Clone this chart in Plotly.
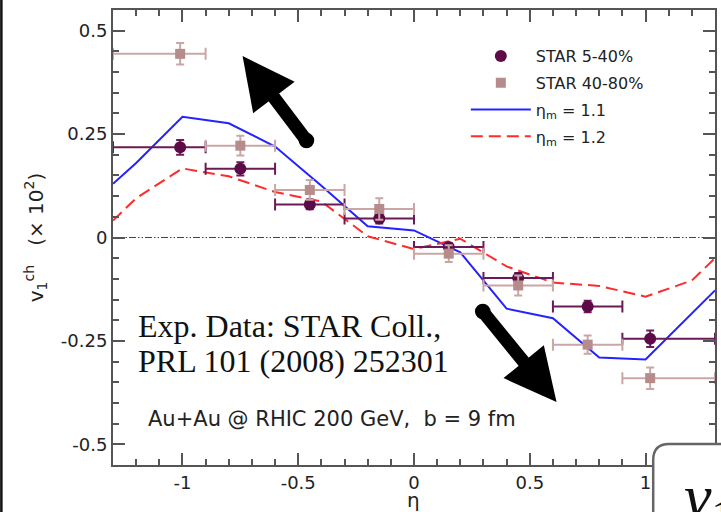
import plotly.graph_objects as go

# STAR charged-hadron v1(eta): bin centres and bin edges
eta_star = [-1.01, -0.75, -0.45, -0.15, 0.15, 0.45, 0.75, 1.02]
bin_lo = [-1.3, -0.9, -0.6, -0.3, 0.0, 0.3, 0.6, 0.9]
bin_hi = [-0.9, -0.6, -0.3, 0.0, 0.3, 0.6, 0.9, 1.3]

v1_5_40 = [0.218, 0.166, 0.080, 0.046, -0.023, -0.098, -0.167, -0.245]
err_5_40 = [0.018, 0.016, 0.012, 0.012, 0.010, 0.012, 0.014, 0.020]
v1_40_80 = [0.444, 0.222, 0.115, 0.069, -0.039, -0.116, -0.259, -0.340]
err_40_80 = [0.026, 0.024, 0.024, 0.026, 0.020, 0.024, 0.022, 0.026]

# model curves for two values of eta_m
eta_model = [-1.3, -1.2, -1.0, -0.8, -0.6, -0.4, -0.2, 0.0, 0.2, 0.4, 0.6, 0.8, 1.0, 1.2, 1.3]
v1_m11 = [0.130, 0.180, 0.292, 0.276, 0.220, 0.125, 0.027, 0.017, -0.036, -0.172,
          -0.195, -0.290, -0.295, -0.183, -0.128]
v1_m12 = [0.041, 0.095, 0.167, 0.148, 0.110, 0.087, 0.003, -0.028, -0.003, -0.070,
          -0.109, -0.117, -0.143, -0.104, -0.050]

x_ticks = [-1, -0.5, 0, 0.5, 1]
x_ticktext = ["-1", "-0.5", "0", "0.5", "1"]
y_ticks = [-0.5, -0.25, 0, 0.25, 0.5]
y_ticktext = ["-0.5", "-0.25", "0", "0.25", "0.5"]

err_plus = [h - e for h, e in zip(bin_hi, eta_star)]
err_minus = [e - l for e, l in zip(eta_star, bin_lo)]

SANS = "DejaVu Sans"
SERIF = "Liberation Serif"
AXIS = "#555555"

fig = go.Figure()

fig.add_trace(go.Scatter(
    x=eta_model, y=v1_m11, mode="lines", name="η<sub>m</sub> = 1.1",
    line=dict(color="#2323ff", width=2), legendrank=3, legendgroup="c"))
fig.add_trace(go.Scatter(
    x=eta_model, y=v1_m12, mode="lines", name="η<sub>m</sub> = 1.2",
    line=dict(color="#ff2b2b", width=2, dash="12px,6px"), legendrank=4, legendgroup="d"))

fig.add_trace(go.Scatter(
    x=eta_star, y=v1_5_40, mode="markers", name="STAR 5-40%",
    marker=dict(symbol="circle", size=12, color="#5c0b47"),
    error_x=dict(type="data", symmetric=False, array=err_plus, arrayminus=err_minus,
                 color="#6a1b57", thickness=2, width=6),
    error_y=dict(type="data", array=err_5_40, color="#6a1b57", thickness=2, width=4),
    legendrank=1, legendgroup="a"))
fig.add_trace(go.Scatter(
    x=eta_star, y=v1_40_80, mode="markers", name="STAR 40-80%",
    marker=dict(symbol="square", size=10, color="#b68b8b"),
    error_x=dict(type="data", symmetric=False, array=err_plus, arrayminus=err_minus,
                 color="#caa6a6", thickness=2, width=6),
    error_y=dict(type="data", array=err_40_80, color="#caa6a6", thickness=2, width=4),
    legendrank=2, legendgroup="b"))

W, H = 721, 512
L, R, T, B = 113, 4, 10, 47
pw, ph = W - L - R, H - T - B


def px(xp):
    return (xp - L) / pw


def py(yp):
    return (H - B - yp) / ph


axis_common = dict(
    showline=True, linecolor=AXIS, linewidth=2, mirror="allticks",
    ticks="inside", ticklen=12, tickwidth=1.5, tickcolor=AXIS,
    showgrid=False, zeroline=False, tickmode="array",
    tickfont=dict(family=SANS, size=18, color="#222222"),
)

fig.update_layout(
    width=W, height=H,
    margin=dict(l=L, r=R, t=T, b=B),
    paper_bgcolor="white", plot_bgcolor="white",
    xaxis=dict(range=[-1.3, 1.3], tickvals=x_ticks, ticktext=x_ticktext,
               minor=dict(tickmode="linear", tick0=0, dtick=0.1, ticks="inside",
                          ticklen=6, tickwidth=1.5, tickcolor=AXIS),
               **axis_common),
    yaxis=dict(range=[-0.55, 0.55], tickvals=y_ticks, ticktext=y_ticktext,
               minor=dict(tickmode="linear", tick0=0, dtick=0.05, ticks="inside",
                          ticklen=6, tickwidth=1.5, tickcolor=AXIS),
               **axis_common),
    showlegend=True,
    legend=dict(x=px(467), y=py(39), xanchor="left", yanchor="top",
                bgcolor="rgba(0,0,0,0)", itemwidth=60, tracegroupgap=3,
                font=dict(family=SANS, size=16, color="#222222")),
)

# dash-dot-dot reference line at v1 = 0
fig.add_shape(type="line", xref="x domain", yref="y", x0=0, x1=1, y0=0, y1=0,
              line=dict(color="#444444", width=1, dash="7px,2px,1.5px,2px,1.5px,2px"),
              layer="below")

# thin dark frame on the left edge
fig.add_shape(type="line", xref="paper", yref="paper", x0=px(1), x1=px(1),
              y0=py(-5), y1=py(520), line=dict(color="#111111", width=2.5))

# rounded label box in the lower-right corner
bx0, by0, bx1, by1, rad = px(655), py(444), px(760), py(540), 16
rx, ry = rad / pw, rad / ph
path = (f"M{bx0},{by1} L{bx0},{by0 - ry} Q{bx0},{by0} {bx0 + rx},{by0} "
        f"L{bx1},{by0} L{bx1},{by1} Z")
fig.add_shape(type="path", xref="paper", yref="paper", path=path,
              fillcolor="white", line=dict(color="#666666", width=2.5), layer="above")


def label(xp, yp, text, family, size, **kw):
    return dict(x=px(xp), y=py(yp), xref="paper", yref="paper", showarrow=False,
                text=text, font=dict(family=family, size=size, color=kw.pop("color", "#222222")),
                xanchor=kw.pop("xanchor", "left"), yanchor="middle", **kw)


annotations = [
    # axis titles
    label(35, 237, "v<sub>1</sub><sup>ch</sup>   (× 10<sup>2</sup>)", SANS, 20,
          xanchor="center", textangle=-90),
    label(414, 500, "η", SANS, 20, xanchor="center"),
    # data reference
    label(136, 326, "Exp. Data: STAR Coll.,", SERIF, 32, color="#111111"),
    label(136, 361, "PRL 101 (2008) 252301", SERIF, 32, color="#111111"),
    label(146, 419, "Au+Au @ RHIC 200 GeV,  b = 9 fm", SANS, 21),
    # corner label
    label(684, 500, "<i>v</i><sub>1</sub>", SERIF, 62, color="#111111"),
    # trend arrows
    dict(x=px(243), y=py(56), xref="paper", yref="paper", ax=65, ay=86, text="",
         showarrow=True, arrowhead=2, arrowsize=0.8, arrowwidth=13, arrowcolor="black",
         arrowside="end+start", startarrowhead=6, startarrowsize=0.3),
    dict(x=px(558), y=py(402), xref="paper", yref="paper", ax=-75, ay=-92, text="",
         showarrow=True, arrowhead=2, arrowsize=0.8, arrowwidth=13, arrowcolor="black",
         arrowside="end+start", startarrowhead=6, startarrowsize=0.3),
]
fig.update_layout(annotations=annotations)

fig.write_html("out.html")
